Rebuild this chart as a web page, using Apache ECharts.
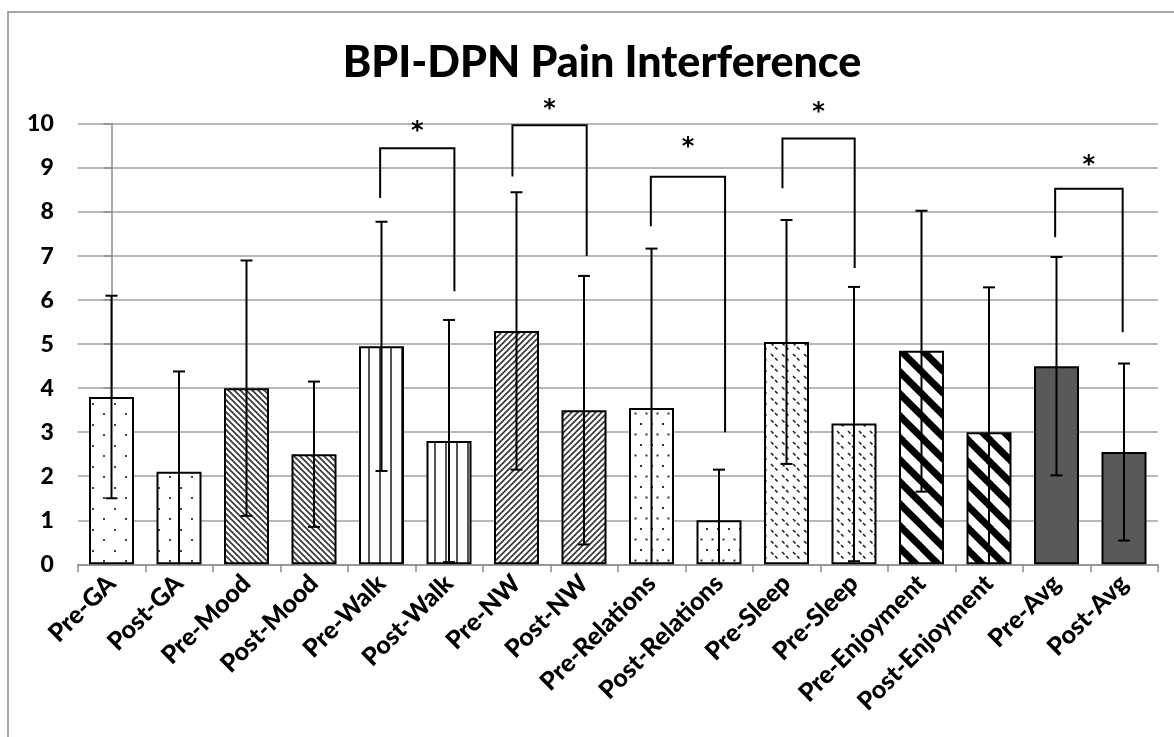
<!DOCTYPE html>
<html>
<head>
<meta charset="utf-8">
<script src="https://cdn.jsdelivr.net/npm/echarts@6/dist/echarts.min.js"></script>
<style>html,body{margin:0;padding:0;background:#fff}#c{width:1174px;height:737px}</style>
</head>
<body>
<div id="c"></div>
<script>
// ---- data ----
const categories = ['Pre-GA','Post-GA','Pre-Mood','Post-Mood','Pre-Walk','Post-Walk','Pre-NW','Post-NW','Pre-Relations','Post-Relations','Pre-Sleep','Pre-Sleep','Pre-Enjoyment','Post-Enjoyment','Pre-Avg','Post-Avg'];
const means   = [3.8, 2.1, 4.0, 2.5, 4.95, 2.8, 5.3, 3.5, 3.55, 1.0, 5.05, 3.2, 4.85, 3.0, 4.5, 2.55];
const errHigh = [6.1, 4.38, 6.9, 4.15, 7.78, 5.55, 8.45, 6.55, 7.17, 2.15, 7.82, 6.3, 8.03, 6.29, 6.98, 4.56];
const errLow  = [1.5, 0, 1.1, 0.85, 2.12, 0.05, 2.15, 0.45, 0, 0, 2.28, 0.07, 1.65, 0, 2.02, 0.54];
const yTicks = [0,1,2,3,4,5,6,7,8,9,10];
// significance brackets (x in category index units)
const bracketLeft     = [3.98, 5.94, 7.99, 9.94, 13.98];
const bracketRight    = [5.08, 7.04, 9.09, 11.01, 14.98];
const bracketTop      = [9.45, 9.97, 8.8, 9.67, 8.53];
const bracketLeftEnd  = [8.32, 8.81, 7.68, 8.54, 7.43];
const bracketRightEnd = [6.2, 7.0, 3.0, 6.73, 5.27];
const starY           = [9.97, 10.47, 9.6, 10.4, 9.18];
const starLabel = '*';

// ---- fill patterns ----
function makePattern(w, h, draw) {
  const c = document.createElement('canvas');
  c.width = w; c.height = h;
  const ctx = c.getContext('2d');
  ctx.fillStyle = '#fff'; ctx.fillRect(0, 0, w, h);
  draw(ctx, w, h);
  return { image: c, repeat: 'repeat' };
}
const pDotsSparse = makePattern(22, 21, (ctx) => {
  ctx.fillStyle = '#444';
  ctx.fillRect(4, 4, 2, 2); ctx.fillRect(15, 14, 2, 2);
});
const pBackThin = makePattern(6, 6, (ctx) => {
  ctx.strokeStyle = '#333'; ctx.lineWidth = 1.6;
  for (let k = -1; k <= 1; k++) { ctx.beginPath(); ctx.moveTo(k*6-1, -1); ctx.lineTo(k*6+7, 7); ctx.stroke(); }
});
const pVert = makePattern(11, 4, (ctx) => {
  ctx.fillStyle = '#555'; ctx.fillRect(5, 0, 2, 4);
});
const pFwdThin = makePattern(6, 6, (ctx) => {
  ctx.strokeStyle = '#333'; ctx.lineWidth = 1.6;
  for (let k = -1; k <= 1; k++) { ctx.beginPath(); ctx.moveTo(k*6-1, 7); ctx.lineTo(k*6+7, -1); ctx.stroke(); }
});
const pDotsDense = makePattern(11, 21, (ctx) => {
  ctx.fillStyle = '#333';
  ctx.fillRect(2, 3, 2, 2); ctx.fillRect(7.5, 13.5, 2, 2);
});
const pDashBack = makePattern(11, 11, (ctx) => {
  ctx.strokeStyle = '#222'; ctx.lineWidth = 1.6;
  ctx.beginPath(); ctx.moveTo(1, 2); ctx.lineTo(3.5, 4.5); ctx.stroke();
  ctx.beginPath(); ctx.moveTo(5, 6); ctx.lineTo(7.5, 8.5); ctx.stroke();
});
const pThickBack = makePattern(22, 22, (ctx) => {
  ctx.strokeStyle = '#000'; ctx.lineWidth = 7;
  for (let k = -1; k <= 1; k++) { ctx.beginPath(); ctx.moveTo(k*22-2, -2); ctx.lineTo(k*22+24, 24); ctx.stroke(); }
});
const groupFills = [pDotsSparse, pBackThin, pVert, pFwdThin, pDotsDense, pDashBack, pThickBack, '#595959'];

const barData = means.map((v, i) => ({
  value: v,
  itemStyle: { color: groupFills[Math.floor(i / 2)], borderColor: '#000', borderWidth: 2 }
}));
const errData = means.map((v, i) => [i, errLow[i], errHigh[i]]);
const bracketData = bracketLeft.map((l, i) => [l, bracketRight[i], bracketTop[i], bracketLeftEnd[i], bracketRightEnd[i], starY[i]]);

const FONT = 'Lato';
const chart = echarts.init(document.getElementById('c'), null, { renderer: 'canvas' });
chart.setOption({
  animation: false,
  backgroundColor: '#fff',
  title: {
    text: 'BPI-DPN Pain Interference',
    left: 597, top: 37, textAlign: 'center',
    textStyle: { fontFamily: FONT, fontWeight: 900, fontSize: 43, color: '#000' }
  },
  graphic: [{
    type: 'rect', z: -10, silent: true,
    shape: { x: 8, y: 12, width: 1200, height: 800 },
    style: { fill: 'none', stroke: '#8c8c8c', lineWidth: 1.5 }
  }],
  grid: { left: 77.75, right: 16.25, top: 124, bottom: 172.7, containLabel: false },
  xAxis: [{
    type: 'category', data: categories, boundaryGap: true,
    axisLine: { show: true, lineStyle: { color: '#8c8c8c', width: 1.5 } },
    axisTick: { show: true, length: 8, alignWithLabel: false, lineStyle: { color: '#8c8c8c', width: 1.5 } },
    axisLabel: { interval: 0, rotate: 45, margin: 15, color: '#000', fontFamily: FONT, fontWeight: 900, fontSize: 25 },
    splitLine: { show: false }
  }, {
    type: 'value', min: -0.5, max: 15.5, show: false
  }],
  yAxis: {
    type: 'value', min: 0, max: 10, interval: 1,
    axisLine: { show: true, lineStyle: { color: '#8c8c8c', width: 1.5 } },
    axisTick: { show: true, length: 8, lineStyle: { color: '#8c8c8c', width: 1.5 } },
    axisLabel: { margin: 24, color: '#000', fontFamily: FONT, fontWeight: 900, fontSize: 23,
      formatter: (v) => yTicks.includes(v) ? String(v) : '' },
    splitLine: { show: true, lineStyle: { color: '#a0a0a0', width: 1.5 } }
  },
  series: [{
    type: 'bar', data: barData, barWidth: 45, z: 2
  }, {
    type: 'custom', z: 5, data: errData,
    renderItem: (params, api) => {
      const x = api.value(0);
      const lo = api.coord([x, api.value(1)]);
      const hi = api.coord([x, api.value(2)]);
      const children = [
        { type: 'line', shape: { x1: lo[0], y1: lo[1], x2: hi[0], y2: hi[1] }, style: { stroke: '#000', lineWidth: 2 } },
        { type: 'line', shape: { x1: hi[0]-6, y1: hi[1], x2: hi[0]+6, y2: hi[1] }, style: { stroke: '#000', lineWidth: 2 } }
      ];
      if (api.value(1) > 0) children.push({ type: 'line', shape: { x1: lo[0]-6, y1: lo[1], x2: lo[0]+6, y2: lo[1] }, style: { stroke: '#000', lineWidth: 2 } });
      return { type: 'group', children };
    }
  }, {
    type: 'custom', z: 6, xAxisIndex: 1, data: bracketData, clip: false,
    renderItem: (params, api) => {
      const l = api.value(0), r = api.value(1);
      const tl = api.coord([l, api.value(2)]);
      const tr = api.coord([r, api.value(2)]);
      const bl = api.coord([l, api.value(3)]);
      const br = api.coord([r, api.value(4)]);
      const st = api.coord([(l + r) / 2, api.value(5)]);
      return { type: 'group', children: [
        { type: 'polyline', shape: { points: [bl, tl, tr, br] }, style: { stroke: '#000', lineWidth: 2, fill: 'none' } },
        { type: 'text', style: { text: starLabel, x: st[0], y: st[1] + 6, align: 'center', verticalAlign: 'middle',
          font: 'bold 24px "DejaVu Sans"', fill: '#000' } }
      ] };
    }
  }]
});
</script>
</body>
</html>
